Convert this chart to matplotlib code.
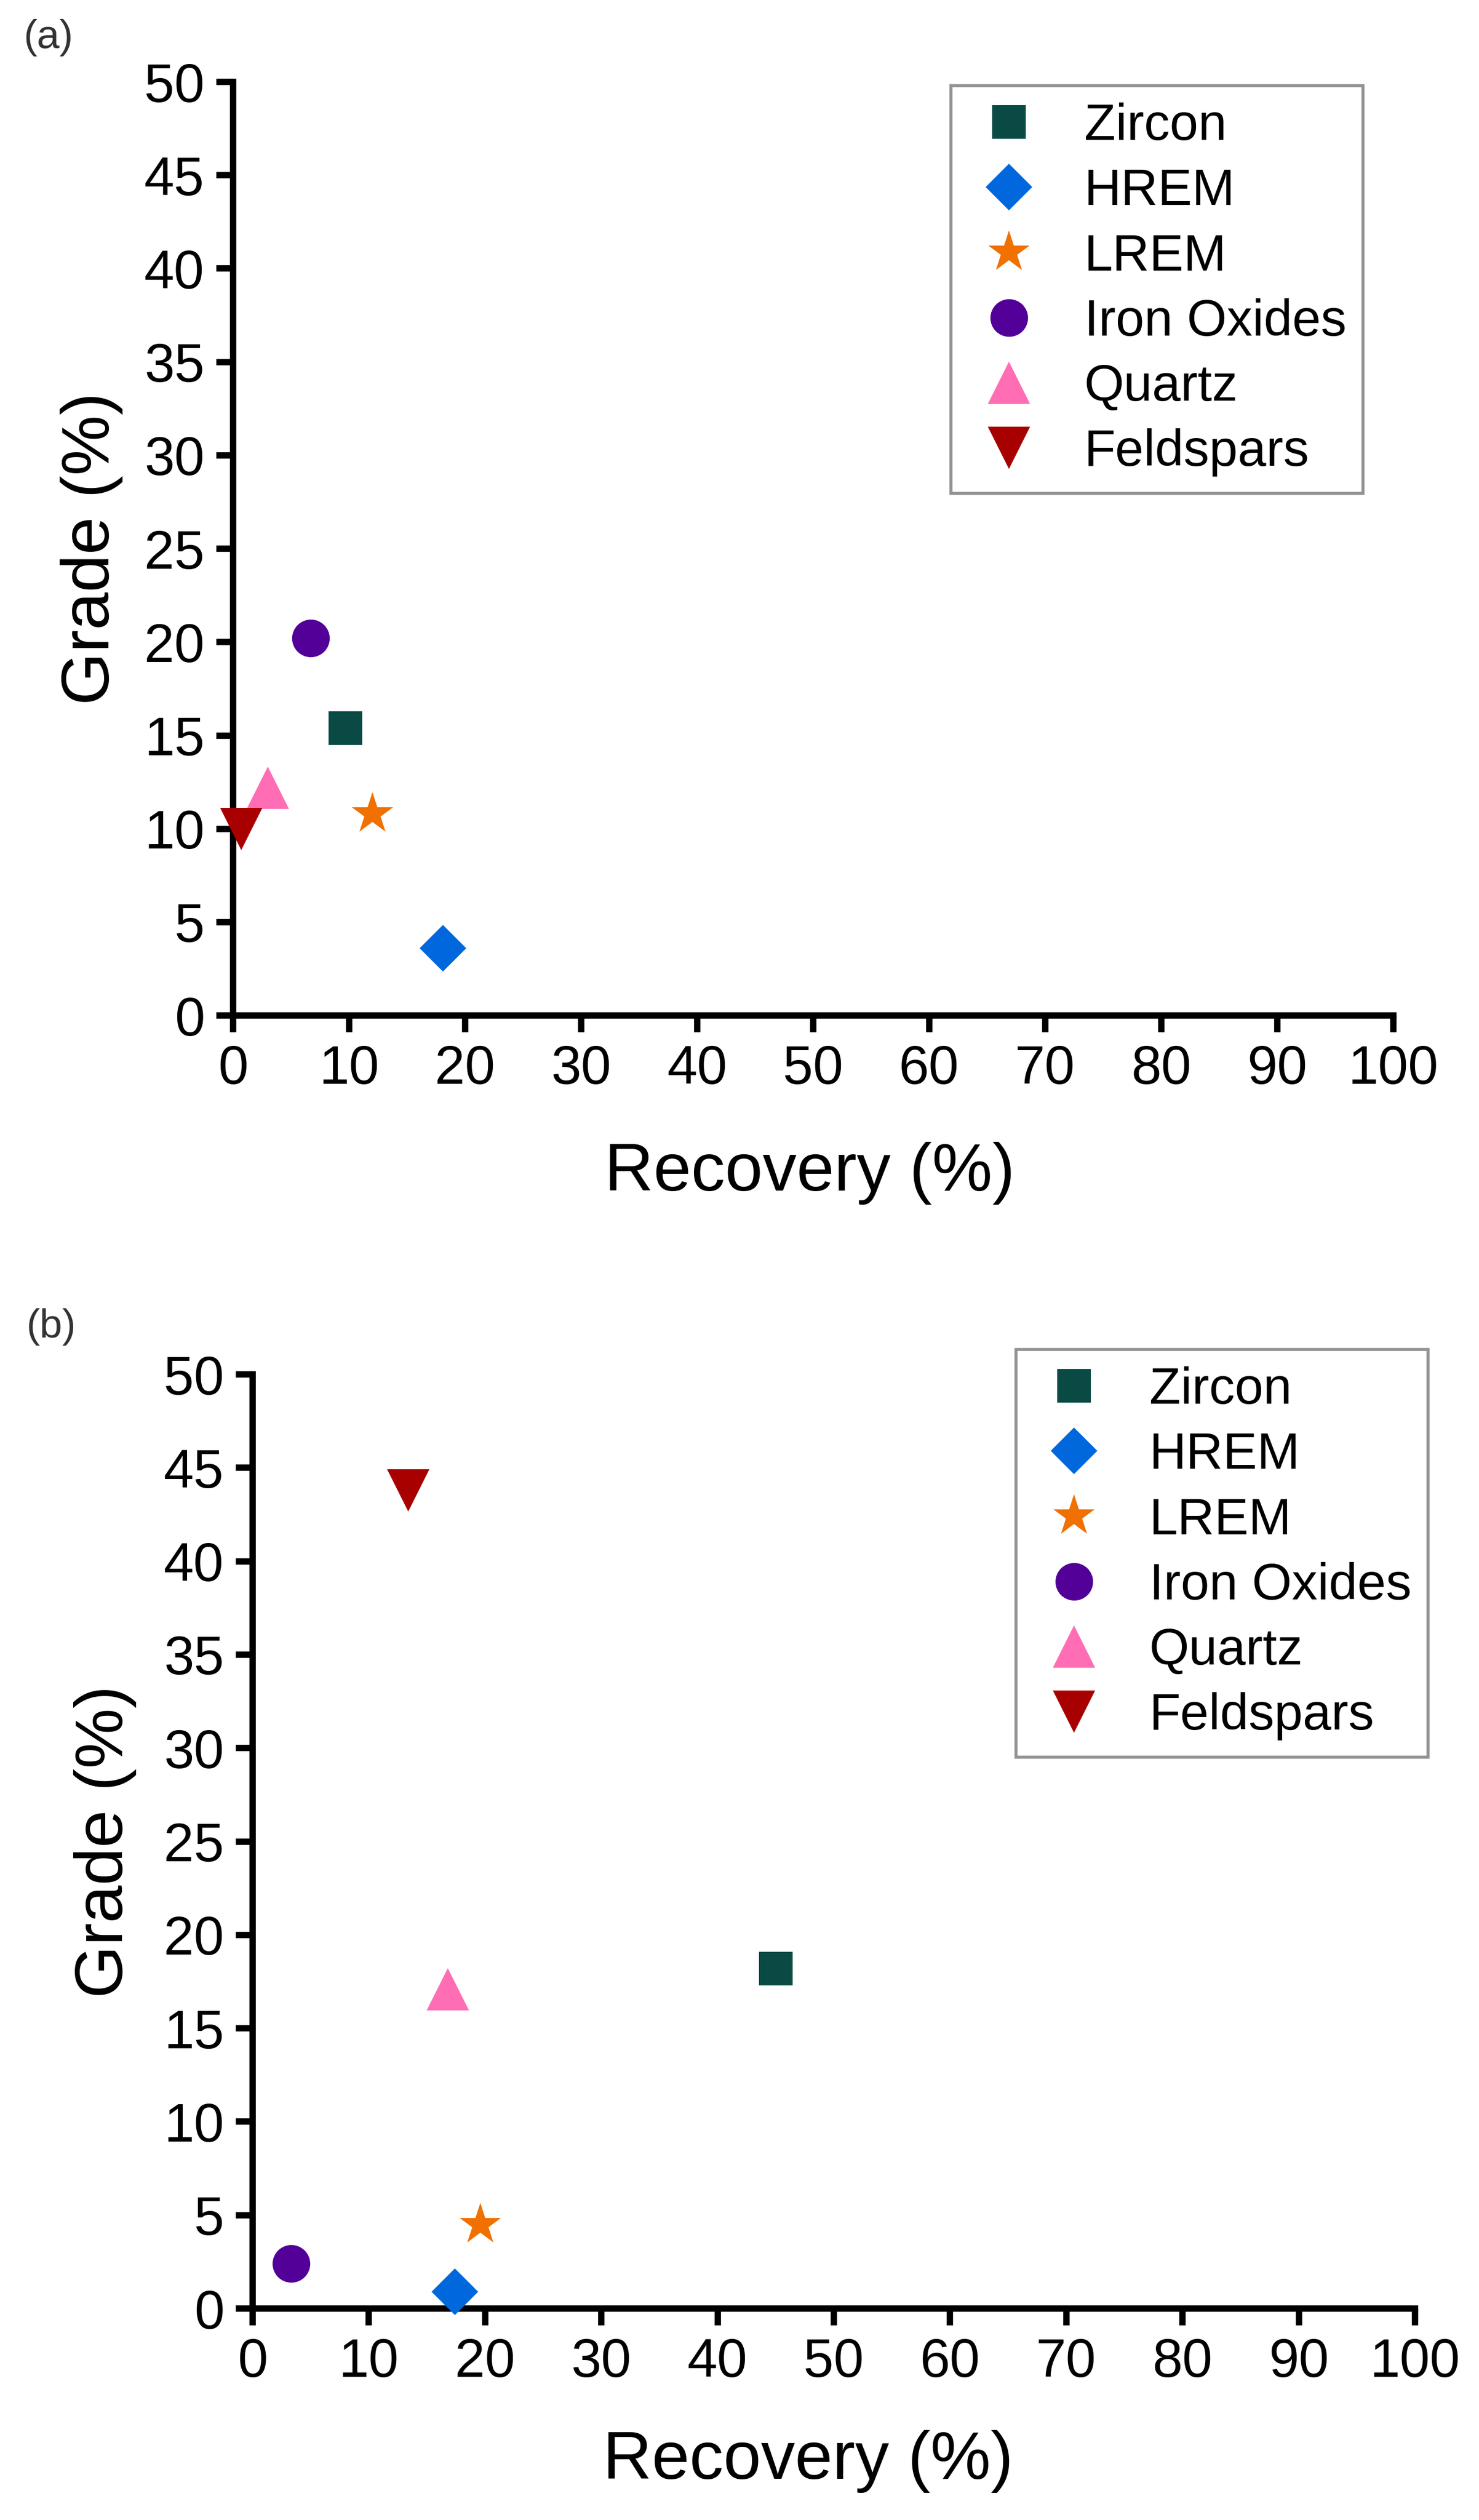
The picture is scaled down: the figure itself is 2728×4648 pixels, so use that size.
import matplotlib
matplotlib.use('Agg')
from matplotlib import pyplot as plt

plt.rcParams['font.family'] = ['Liberation Sans', 'DejaVu Sans']

# minerals and their marker styles
minerals = ['Zircon', 'HREM', 'LREM', 'Iron Oxides', 'Quartz', 'Feldspars']
markers = ['s', 'D', '*', 'o', '^', 'v']
sizes = [22, 22, 29, 25, 28, 28]
colors = ['#0a4a45', '#0068dc', '#f07000', '#520098', '#ff6eb4', '#a80000']

# panel (a)
recovery_a = [9.7, 18.1, 12.0, 6.7, 3.0, 0.7]
grade_a = [15.4, 3.6, 10.8, 20.2, 12.2, 10.0]

# panel (b)
recovery_b = [45.0, 17.4, 19.6, 3.3, 16.8, 13.4]
grade_b = [18.2, 0.9, 4.5, 2.4, 17.1, 43.8]

x_ticks = list(range(0, 101, 10))
y_ticks = list(range(0, 51, 5))

fig = plt.figure(figsize=(13.64, 23.24), dpi=200)
fig.patch.set_facecolor('white')


def draw_panel(ax, recovery, grade, leg_anchor, ylab_x, xlab_pos):
    for i in range(len(minerals)):
        ax.plot(recovery[i], grade[i], linestyle='none', marker=markers[i],
                markersize=sizes[i], color=colors[i], markeredgewidth=0,
                label=minerals[i], clip_on=False, zorder=4)
    ax.set_xlim(0, 100)
    ax.set_ylim(0, 50)
    ax.set_xticks(x_ticks)
    ax.set_yticks(y_ticks)
    for s in ['top', 'right']:
        ax.spines[s].set_visible(False)
    for s in ['left', 'bottom']:
        ax.spines[s].set_linewidth(4.2)
    ax.tick_params(direction='out', length=11, width=4.2, labelsize=36, pad=8)
    ax.set_xlabel('Recovery (%)', fontsize=45)
    ax.set_ylabel('Grade (%)', fontsize=45)
    ax.xaxis.set_label_coords(xlab_pos[0], xlab_pos[1])
    ax.yaxis.set_label_coords(ylab_x, 0.5)
    leg = ax.legend(loc='upper left', bbox_to_anchor=leg_anchor,
                    bbox_transform=fig.transFigure, fontsize=34,
                    frameon=True, fancybox=False, borderpad=0.33,
                    handlelength=1.6, handletextpad=0.67, labelspacing=0.33,
                    borderaxespad=0, numpoints=1)
    leg.get_frame().set_edgecolor('#777777')
    leg.get_frame().set_linewidth(2)


ax1 = fig.add_axes([0.1576, 0.597, 0.7844, 0.3705])
draw_panel(ax1, recovery_a, grade_a, (0.643, 0.966), -0.095, (0.497, -0.135))

ax2 = fig.add_axes([0.1708, 0.0839, 0.786, 0.3707])
draw_panel(ax2, recovery_b, grade_b, (0.687, 0.4645), -0.1, (0.478, -0.13))

fig.text(0.0326, 0.985, '(a)', fontsize=27, color='#333333', ha='center', va='center')
fig.text(0.0345, 0.4735, '(b)', fontsize=27, color='#333333', ha='center', va='center')

plt.savefig('out.png', dpi=200)
